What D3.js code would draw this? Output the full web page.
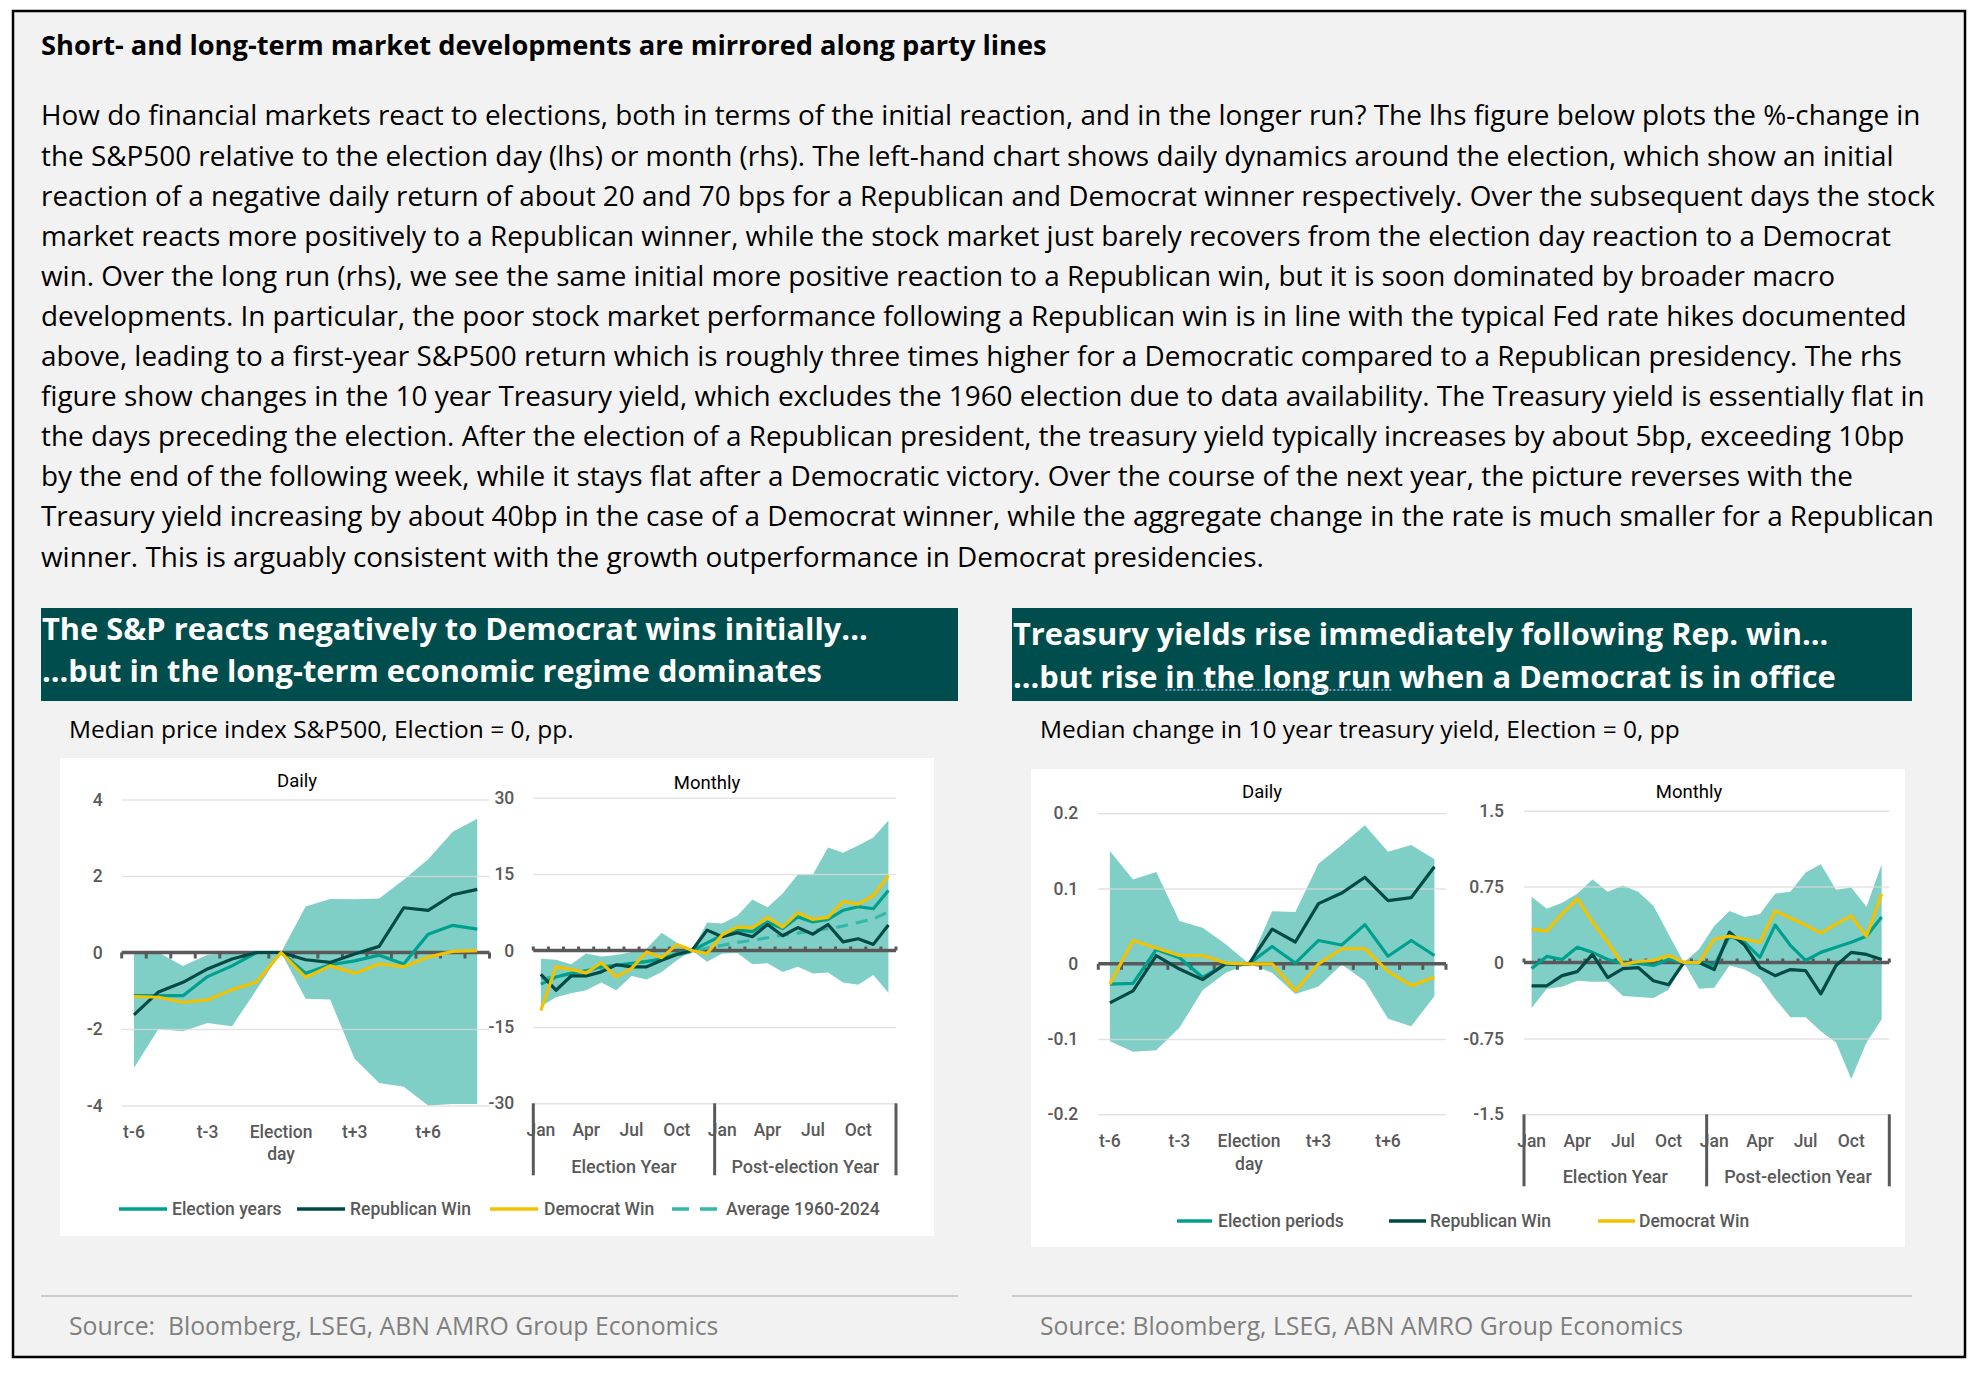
<!DOCTYPE html>
<html><head><meta charset="utf-8">
<script src="https://cdn.jsdelivr.net/npm/d3@7"></script>
<style>body{margin:0;background:#fff}svg{display:block}</style>
</head><body><svg id="c" width="1971" height="1374"></svg>
<script>
// ---------------- DATA ----------------
const dailyCats = ["t-6","t-5","t-4","t-3","t-2","t-1","Election day","t+1","t+2","t+3","t+4","t+5","t+6","t+7","t+8"];
const dailyTickCats = ["t-6","t-3","Election day","t+3","t+6"];
const monthNames = ["Jan","Feb","Mar","Apr","May","Jun","Jul","Aug","Sep","Oct","Nov","Dec"];
const yearGroups = ["Election Year","Post-election Year"];
const monthlyCats = yearGroups.flatMap(g => monthNames.map(m => g + "|" + m));
const monthTickNames = ["Jan","Apr","Jul","Oct"];

// S&P500 daily (pp)
const spDailyElection = [-1.13,-1.13,-1.13,-0.63,-0.35,0,0,-0.54,-0.32,-0.22,-0.07,-0.30,0.48,0.71,0.61];
const spDailyRep      = [-1.63,-1.03,-0.78,-0.43,-0.17,0,0,-0.19,-0.26,-0.04,0.16,1.17,1.10,1.51,1.65];
const spDailyDem      = [-1.15,-1.17,-1.30,-1.24,-0.97,-0.77,0,-0.65,-0.35,-0.54,-0.30,-0.37,-0.12,0.03,0.05];
const spDailyHigh     = [0,0,-0.35,-0.06,-0.02,0,0,1.20,1.40,1.39,1.41,1.90,2.44,3.16,3.50];
const spDailyLow      = [-3.02,-2.00,-2.06,-1.84,-1.93,-0.97,0,-1.21,-1.23,-2.78,-3.41,-3.51,-4.00,-3.96,-3.96];

// S&P500 monthly (pp)
const spMonthlyElection = [-6.6,-5.2,-4.5,-4.0,-3.2,-2.9,-2.5,-2.2,-1.6,-0.6,0,1.5,3.0,4.0,3.7,5.6,4.3,6.6,5.6,6.1,7.9,8.6,8.2,11.8];
const spMonthlyRep      = [-4.7,-7.8,-5.0,-5.0,-4.2,-2.8,-3.2,-3.2,-1.9,-0.8,0,4.0,2.7,3.5,2.7,5.1,2.9,4.5,3.2,5.1,1.7,2.3,1.2,5.0];
const spMonthlyDem      = [-11.8,-3.2,-3.7,-4.4,-2.4,-5.2,-3.5,-0.3,-1.4,1.2,0,-0.6,3.1,4.6,4.5,6.5,4.6,7.4,6.1,6.5,9.6,9.1,10.8,14.7];
const spMonthlyAvg      = [-5.6,-5.1,-4.5,-4.0,-3.5,-3.0,-2.6,-2.1,-1.5,-0.9,-0.2,0.5,1.0,1.6,2.0,2.5,3.0,3.4,3.9,4.3,4.8,5.5,6.2,7.6];
const spMonthlyHigh     = [-1.6,-1.8,-2.7,-0.6,-1.2,-0.9,-0.3,0.4,3.5,1.5,0,5.5,5.3,6.8,10.0,8.5,11.2,14.9,14.9,20.2,19.2,20.6,22.2,25.5];
const spMonthlyLow      = [-11.0,-9.2,-8.4,-7.8,-6.3,-7.8,-5.0,-5.7,-4.2,-1.9,0,-2.2,-0.6,-0.5,-2.7,-2.5,-4.2,-3.2,-4.5,-4.3,-6.3,-6.7,-4.8,-8.3];

// 10y Treasury daily (pp)
const tyDailyElection = [-0.027,-0.026,0.019,0.008,-0.018,0,0,0.023,0.001,0.031,0.025,0.052,0.010,0.031,0.011];
const tyDailyRep      = [-0.052,-0.036,0.011,-0.007,-0.021,0,0,0.046,0.029,0.080,0.094,0.115,0.084,0.088,0.129];
const tyDailyDem      = [-0.027,0.031,0.021,0.011,0.011,0.001,0,0,-0.036,0,0.020,0.020,-0.010,-0.029,-0.018];
const tyDailyHigh     = [0.150,0.112,0.122,0.057,0.048,0.026,0,0.070,0.069,0.133,0.158,0.184,0.149,0.158,0.139];
const tyDailyLow      = [-0.103,-0.117,-0.115,-0.085,-0.035,-0.012,0,-0.012,-0.040,-0.030,-0.001,-0.023,-0.073,-0.083,-0.043];

// 10y Treasury monthly (pp)
const tyMonthlyElection = [-0.06,0.06,0.03,0.15,0.10,0.03,-0.01,-0.01,-0.03,0.03,0,0,-0.03,0.26,0.20,0.05,0.37,0.17,0.02,0.10,0.15,0.20,0.26,0.45];
const tyMonthlyRep      = [-0.23,-0.23,-0.13,-0.09,0.08,-0.15,-0.06,-0.05,-0.18,-0.22,0,0,-0.07,0.30,0.17,-0.05,-0.13,-0.07,-0.08,-0.31,-0.03,0.10,0.08,0.03];
const tyMonthlyDem      = [0.33,0.31,0.48,0.63,0.40,0.20,-0.02,0.01,0.02,0.07,0,0,0.23,0.26,0.23,0.20,0.51,0.44,0.37,0.29,0.38,0.46,0.26,0.68];
const tyMonthlyHigh     = [0.65,0.53,0.59,0.68,0.82,0.70,0.76,0.70,0.56,0.28,0,0.13,0.36,0.51,0.45,0.48,0.68,0.70,0.89,0.97,0.72,0.74,0.55,0.97];
const tyMonthlyLow      = [-0.45,-0.26,-0.24,-0.18,-0.19,-0.19,-0.33,-0.34,-0.35,-0.27,0,-0.26,-0.25,-0.03,-0.07,-0.15,-0.36,-0.54,-0.54,-0.68,-0.79,-1.15,-0.79,-0.56];

// axis tick values
const spDailyTicks = [-4,-2,0,2,4];
const spMonthlyTicks = [-30,-15,0,15,30];
const tyDailyTicks = [-0.2,-0.1,0,0.1,0.2];
const tyMonthlyTicks = [-1.5,-0.75,0,0.75,1.5];

// texts
const mainTitle = "Short- and long-term market developments are mirrored along party lines";
const bodyLines = [
 "How do financial markets react to elections, both in terms of the initial reaction, and in the longer run? The lhs figure below plots the %-change in",
 "the S&P500 relative to the election day (lhs) or month (rhs). The left-hand chart shows daily dynamics around the election, which show an initial",
 "reaction of a negative daily return of about 20 and 70 bps for a Republican and Democrat winner respectively. Over the subsequent days the stock",
 "market reacts more positively to a Republican winner, while the stock market just barely recovers from the election day reaction to a Democrat",
 "win. Over the long run (rhs), we see the same initial more positive reaction to a Republican win, but it is soon dominated by broader macro",
 "developments. In particular, the poor stock market performance following a Republican win is in line with the typical Fed rate hikes documented",
 "above, leading to a first-year S&P500 return which is roughly three times higher for a Democratic compared to a Republican presidency. The rhs",
 "figure show changes in the 10 year Treasury yield, which excludes the 1960 election due to data availability. The Treasury yield is essentially flat in",
 "the days preceding the election. After the election of a Republican president, the treasury yield typically increases by about 5bp, exceeding 10bp",
 "by the end of the following week, while it stays flat after a Democratic victory. Over the course of the next year, the picture reverses with the",
 "Treasury yield increasing by about 40bp in the case of a Democrat winner, while the aggregate change in the rate is much smaller for a Republican",
 "winner. This is arguably consistent with the growth outperformance in Democrat presidencies."
];
const leftHeader = ["The S&P reacts negatively to Democrat wins initially...", "...but in the long-term economic regime dominates"];
const rightHeader = ["Treasury yields rise immediately following Rep. win...", "...but rise in the long run when a Democrat is in office"];
const leftSubtitle = "Median price index S&P500, Election = 0, pp.";
const rightSubtitle = "Median change in 10 year treasury yield, Election = 0, pp";
const leftSource = "Source:  Bloomberg, LSEG, ABN AMRO Group Economics";
const rightSource = "Source: Bloomberg, LSEG, ABN AMRO Group Economics";
const leftLegend = ["Election years","Republican Win","Democrat Win","Average 1960-2024"];
const rightLegend = ["Election periods","Republican Win","Democrat Win"];

// ---------------- STYLE ----------------
const C = {teal:"#00a08f", dark:"#004a45", yellow:"#f2c100", band:"#80cfc7", avg:"#35b8aa",
           axis:"#595959", grid:"#d9d9d9", header:"#004d4d"};
const FT = "'Open Sans','Noto Sans',sans-serif";
const FC = "Roboto,'Noto Sans',sans-serif";

const svg = d3.select("#c");
svg.append("rect").attr("x",13).attr("y",11).attr("width",1952).attr("height",1346)
  .attr("fill","#f2f2f2").attr("stroke","#000").attr("stroke-width",2.5);

function fitSize(sel, target){
  const fs = parseFloat(sel.attr("font-size"));
  const w = sel.node().getComputedTextLength();
  return fs*target/w;
}

// title
const t = svg.append("text").attr("x",41).attr("y",45).attr("dy","0.35em")
  .attr("font-family",FT).attr("font-weight",700).attr("font-size",22).attr("fill","#000").text(mainTitle);
t.attr("font-size", fitSize(t,1006));

// body
const body = svg.append("g");
const bl = body.selectAll("text").data(bodyLines).join("text")
  .attr("x",41).attr("y",(d,i)=>115.7+i*40.1).attr("dy","0.35em")
  .attr("font-family",FT).attr("font-size",24).attr("fill","#000").text(d=>d);
const bfs = fitSize(d3.select(bl.nodes()[0]),1881);
bl.attr("font-size",bfs);

// headers
function header(x, w, lines, ys){
  svg.append("rect").attr("x",x).attr("y",608).attr("width",w).attr("height",93).attr("fill",C.header);
  return lines.map((s,i)=> svg.append("text").attr("x",x+1).attr("y",ys[i]).attr("dy","0.35em")
    .attr("font-family",FT).attr("font-weight",700).attr("font-size",26).attr("fill","#fff").text(s));
}
const lh = header(41,917,leftHeader,[629,671]);
const rh = header(1012,900,rightHeader,[634,677]);
const hfs = fitSize(lh[0],826);
lh.concat(rh).forEach(s=>s.attr("font-size",hfs));
// dotted proofing underline under "in the long run"
{
  const node = rh[1].node(), str = rightHeader[1], phrase = "in the long run";
  const idx = str.indexOf(phrase);
  const x0 = 1013 + node.getSubStringLength(0, idx);
  const len = node.getSubStringLength(idx, phrase.length);
  svg.append("line").attr("x1",x0).attr("x2",x0+len).attr("y1",690).attr("y2",690)
    .attr("stroke","#a8a8ff").attr("stroke-width",1.6).attr("stroke-dasharray","2,2");
}

// subtitles
const ls = svg.append("text").attr("x",69).attr("y",729).attr("dy","0.35em").attr("font-family",FT)
  .attr("font-size",20).attr("fill","#000").text(leftSubtitle);
const rs = svg.append("text").attr("x",1040).attr("y",729).attr("dy","0.35em").attr("font-family",FT)
  .attr("font-size",20).attr("fill","#000").text(rightSubtitle);
const sfs = fitSize(ls,505); ls.attr("font-size",sfs); rs.attr("font-size",sfs);

// panels
svg.append("rect").attr("x",60).attr("y",758).attr("width",874).attr("height",478).attr("fill","#fff");
svg.append("rect").attr("x",1031).attr("y",769).attr("width",874).attr("height",478).attr("fill","#fff");

// separators + sources
[[41,958],[1012,1912]].forEach(([a,b])=> svg.append("line").attr("x1",a).attr("x2",b).attr("y1",1296).attr("y2",1296)
  .attr("stroke","#bfbfbf").attr("stroke-width",1.5));
const s1 = svg.append("text").attr("x",69).attr("y",1326).attr("dy","0.35em").attr("font-family",FT)
  .attr("font-size",22).attr("fill","#7f7f7f").style("white-space","pre").text(leftSource);
const s2 = svg.append("text").attr("x",1040).attr("y",1326).attr("dy","0.35em").attr("font-family",FT)
  .attr("font-size",22).attr("fill","#7f7f7f").style("white-space","pre").text(rightSource);
const srcfs = fitSize(s1,650); s1.attr("font-size",srcfs); s2.attr("font-size",srcfs);

// ---------------- CHART PANELS ----------------
function drawPanel(o){
  const g = svg.append("g");
  const x = d3.scaleBand().domain(o.cats).range([o.x0,o.x1]);
  const y = d3.scaleLinear().domain(o.yDomain).range([o.yBot,o.yTop]);
  const cx = i => x(o.cats[i]) + x.bandwidth()/2;

  // band
  g.append("path").datum(o.high)
    .attr("d", d3.area().x((d,i)=>cx(i)).y1(d=>y(d)).y0((d,i)=>y(o.low[i])))
    .attr("fill",C.band);

  // grid + y labels
  const ya = g.append("g").attr("transform",`translate(${o.x0},0)`)
    .call(d3.axisLeft(y).tickValues(o.yTicks).tickSize(-(o.x1-o.x0)).tickPadding(o.pad).tickFormat(d=>String(d)));
  ya.select(".domain").remove();
  ya.selectAll("line").attr("stroke",C.grid).attr("stroke-width",1.5).attr("stroke-opacity",0.75);
  ya.selectAll("text").attr("font-family",FC).attr("font-weight",500).attr("font-size",17.5).attr("fill",C.axis);

  // zero axis with ticks
  const y0 = y(0);
  g.append("line").attr("x1",o.x0).attr("x2",o.x1).attr("y1",y0).attr("y2",y0)
    .attr("stroke",C.axis).attr("stroke-width",3.5);
  const bounds = o.cats.map(c=>x(c)).concat([o.x1]);
  g.selectAll(".zt").data(bounds).join("line").attr("x1",d=>d).attr("x2",d=>d)
    .attr("y1",y0).attr("y2",y0 + o.tickLen).attr("stroke",C.axis).attr("stroke-width",3);

  // x labels
  const xa = g.append("g").attr("transform",`translate(0,${o.yBot})`)
    .call(d3.axisBottom(x).tickValues(o.tickCats).tickSize(0).tickFormat(o.tickFmt));
  xa.select(".domain").remove();
  xa.selectAll("text").attr("y",o.xLabOff).attr("dy","0.35em")
    .attr("font-family",FC).attr("font-weight",500).attr("font-size",17.5).attr("fill",C.axis);
  xa.selectAll("text").filter(d=>d==="Election day").each(function(){
    const s = d3.select(this); s.text(null);
    s.append("tspan").attr("x",0).attr("dy","0.35em").text("Election");
    s.append("tspan").attr("x",0).attr("dy","1.3em").text("day");
  });

  // group separators for monthly
  if (o.groups){
    const seps = [o.x0, x(o.groups[1]+"|Jan"), o.x1];
    g.selectAll(".sep").data(seps).join("line").attr("x1",d=>d).attr("x2",d=>d)
      .attr("y1",o.yBot).attr("y2",o.yBot+72).attr("stroke",C.axis).attr("stroke-width",3);
    g.selectAll(".gl").data(o.groups).join("text")
      .attr("x",(d,i)=>(seps[i]+seps[i+1])/2).attr("y",o.yBot+o.groupOff).attr("dy","0.35em")
      .attr("text-anchor","middle").attr("font-family",FC).attr("font-weight",500).attr("font-size",18)
      .attr("fill",C.axis).text(d=>d);
  }

  // lines
  o.lines.forEach(L=>{
    g.append("path").datum(L.values)
      .attr("d", d3.line().x((d,i)=>cx(i)).y(d=>y(d)))
      .attr("fill","none").attr("stroke",L.color).attr("stroke-width",3.2)
      .attr("stroke-dasharray",L.dash||null).attr("stroke-linejoin","round");
  });

  // title
  g.append("text").attr("x",o.titleX).attr("y",o.titleY).attr("dy","0.35em").attr("text-anchor","middle")
    .attr("font-family",FC).attr("font-size",18.5).attr("fill","#000").text(o.title);
}

const monthFmt = d => d.split("|")[1];
const monthTicks = yearGroups.flatMap(g=>monthTickNames.map(m=>g+"|"+m));

drawPanel({cats:dailyCats, x0:121.7, x1:489.5, yTop:799.5, yBot:1105.5, yDomain:[-4,4], yTicks:spDailyTicks, pad:19,
  high:spDailyHigh, low:spDailyLow, tickLen:6, tickCats:dailyTickCats, tickFmt:d=>d, xLabOff:26,
  lines:[{values:spDailyElection,color:C.teal},{values:spDailyRep,color:C.dark},{values:spDailyDem,color:C.yellow}],
  title:"Daily", titleX:297, titleY:781});

drawPanel({cats:monthlyCats, x0:533.3, x1:896, yTop:797.7, yBot:1103.3, yDomain:[-30,30], yTicks:spMonthlyTicks, pad:19,
  high:spMonthlyHigh, low:spMonthlyLow, tickLen:-4, tickCats:monthTicks, tickFmt:monthFmt, xLabOff:27,
  groups:yearGroups, groupOff:63,
  lines:[{values:spMonthlyAvg,color:C.avg,dash:"12,8"},{values:spMonthlyElection,color:C.teal},{values:spMonthlyRep,color:C.dark},{values:spMonthlyDem,color:C.yellow}],
  title:"Monthly", titleX:707, titleY:783});

drawPanel({cats:dailyCats, x0:1098.3, x1:1446, yTop:813.3, yBot:1114.3, yDomain:[-0.2,0.2], yTicks:tyDailyTicks, pad:20,
  high:tyDailyHigh, low:tyDailyLow, tickLen:6, tickCats:dailyTickCats, tickFmt:d=>d, xLabOff:27,
  lines:[{values:tyDailyElection,color:C.teal},{values:tyDailyRep,color:C.dark},{values:tyDailyDem,color:C.yellow}],
  title:"Daily", titleX:1262, titleY:792});

drawPanel({cats:monthlyCats, x0:1524, x1:1889.3, yTop:810.7, yBot:1114.3, yDomain:[-1.5,1.5], yTicks:tyMonthlyTicks, pad:20,
  high:tyMonthlyHigh, low:tyMonthlyLow, tickLen:-4, tickCats:monthTicks, tickFmt:monthFmt, xLabOff:27,
  groups:yearGroups, groupOff:62,
  lines:[{values:tyMonthlyElection,color:C.teal},{values:tyMonthlyRep,color:C.dark},{values:tyMonthlyDem,color:C.yellow}],
  title:"Monthly", titleX:1689, titleY:792});

// ---------------- LEGENDS ----------------
function legend(names, colors, dashes, lineX, textX, yy){
  const g = svg.append("g");
  names.forEach((n,i)=>{
    g.append("line").attr("x1",lineX[i][0]).attr("x2",lineX[i][1]).attr("y1",yy).attr("y2",yy)
      .attr("stroke",colors[i]).attr("stroke-width",3.5).attr("stroke-dasharray",dashes[i]);
    g.append("text").attr("x",textX[i]).attr("y",yy).attr("dy","0.35em").attr("font-family",FC)
      .attr("font-weight",500).attr("font-size",17.5).attr("fill",C.axis).text(n);
  });
}
legend(leftLegend,[C.teal,C.dark,C.yellow,C.avg],[null,null,null,"17,11"],
  [[119,167],[297,345],[490,538],[672,717]],[172,350,544,726],1209);
legend(rightLegend,[C.teal,C.dark,C.yellow],[null,null,null],
  [[1177,1212],[1389,1426],[1598,1635]],[1218,1430,1639],1221);
</script></body></html>
